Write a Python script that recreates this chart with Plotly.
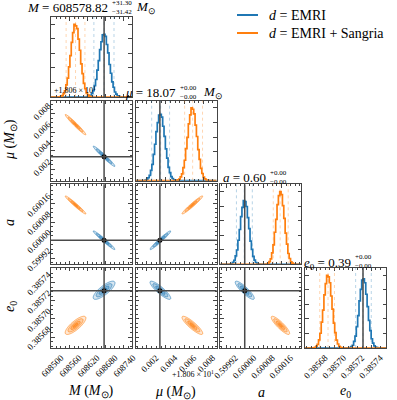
import numpy as np
import plotly.graph_objects as go
from plotly.subplots import make_subplots

BLUE = "#1f77b4"
ORANGE = "#ff7f0e"
TRUTH_COLOR = "#4a4a4a"
FRAME = "#444444"
FONT = "Liberation Serif"

PARAMS = ["M", "mu", "a", "e0"]

AX_RANGE = {
    "M": [608497.0, 608767.0],
    "mu": [18.0608, 18.0694],
    "a": [0.599894, 0.600246],
    "e0": [0.385668, 0.385756],
}
TICK_VALS = {
    "M": [608500, 608560, 608620, 608680, 608740],
    "mu": [18.062, 18.064, 18.066, 18.068],
    "a": [0.59992, 0.60000, 0.60008, 0.60016],
    "e0": [0.38568, 0.38570, 0.38572, 0.38574],
}
TICK_TEXT = {
    "M": ["608500", "608560", "608620", "608680", "608740"],
    "mu": ["0.002", "0.004", "0.006", "0.008"],
    "a": ["0.59992", "0.60000", "0.60008", "0.60016"],
    "e0": ["0.38568", "0.38570", "0.38572", "0.38574"],
}
MINOR_STEP = {"M": 15, "mu": 0.0005, "a": 0.00002, "e0": 0.000005}

TRUTHS = {"M": 608674.0, "mu": 18.06337, "a": 0.600000, "e0": 0.385731}
N_BINS = 60

# marginal histograms: (first bin index, counts), bins = axis range / 60
HIST_EMRI = {
    "M": (27, [5, 12, 22, 50, 87, 158, 241, 371, 499, 652, 760, 855, 862, 834, 722, 608,
               447, 327, 208, 134, 69, 40, 17, 10, 4]),
    "mu": (6, [2, 8, 16, 40, 72, 141, 224, 361, 501, 675, 797, 903, 911, 874, 748, 609,
               437, 309, 184, 112, 55, 30, 12, 5]),
    "a": (7, [4, 10, 27, 55, 115, 197, 331, 479, 655, 782, 876, 862, 795, 642, 491, 320,
              205, 109, 59, 25, 12, 4]),
    "e0": (33, [7, 18, 38, 90, 163, 294, 446, 647, 805, 935, 951, 897, 739, 570, 380, 238,
                127, 67, 28, 12, 4]),
}
HIST_SANGRIA = {
    "M": (6, [3, 10, 19, 47, 86, 166, 259, 414, 568, 751, 884, 1000, 979, 941, 795, 643,
              455, 321, 188, 114, 56, 30, 11, 5]),
    "mu": (30, [4, 11, 22, 53, 94, 179, 281, 441, 594, 780, 905, 1000, 982, 918, 765, 607,
                428, 292, 170, 99, 49, 25, 9, 4]),
    "a": (34, [5, 14, 38, 75, 158, 268, 441, 619, 820, 944, 1000, 957, 806, 633, 428, 279,
               149, 80, 34, 16, 5]),
    "e0": (6, [3, 8, 24, 51, 113, 203, 355, 521, 730, 884, 1000, 979, 897, 715, 534, 342,
               211, 107, 55, 22, 9, 3]),
}

# quantile lines (lower, median, upper)
QUANT_EMRI = {
    "M": [608640.0, 608674.0, 608707.0],
    "mu": [18.0625, 18.06345, 18.0644],
    "a": [0.599964, 0.599998, 0.600033],
    "e0": [0.385723, 0.385731, 0.385740],
}
QUANT_SANGRIA = {
    "M": [608547.40, 608578.82, 608610.12],
    "mu": [18.0660, 18.06685, 18.0679],
    "a": [0.600124, 0.600154, 0.600189],
    "e0": [0.385684, 0.385693, 0.385700],
}

# 2D posterior summaries
MEAN_EMRI = {"M": 608674.0, "mu": 18.063423, "a": 0.600000, "e0": 0.3857315}
SIGMA_EMRI = {"M": 16.5, "mu": 0.0005, "a": 0.0000188, "e0": 0.00000455}
MEAN_SANGRIA = {"M": 608578.82, "mu": 18.06682, "a": 0.6001552, "e0": 0.3856929}
SIGMA_SANGRIA = {"M": 15.7, "mu": 0.0005, "a": 0.0000182, "e0": 0.00000455}
CORR_EMRI = {
    ("M", "mu"): -0.975, ("M", "a"): -0.975, ("mu", "a"): 0.97,
    ("M", "e0"): 0.8, ("mu", "e0"): -0.88, ("a", "e0"): -0.88,
}
CORR_SANGRIA = {
    ("M", "mu"): -0.975, ("M", "a"): -0.975, ("mu", "a"): 0.97,
    ("M", "e0"): 0.8, ("mu", "e0"): -0.88, ("a", "e0"): -0.88,
}
LEVELS = [2.2, 1.6, 1.0, 0.5]
LEVEL_ALPHA = [0.18, 0.25, 0.35, 0.5]

DATASETS = [
    (BLUE, "31,119,180", HIST_EMRI, QUANT_EMRI, MEAN_EMRI, SIGMA_EMRI, CORR_EMRI),
    (ORANGE, "255,127,14", HIST_SANGRIA, QUANT_SANGRIA, MEAN_SANGRIA, SIGMA_SANGRIA, CORR_SANGRIA),
]

W, H = 397, 400
L, R, T, B = 51, 11, 17, 52


def px(x):
    return (x - L) / (W - L - R)


def py(y):
    return (H - B - y) / (H - T - B)


fig = make_subplots(
    rows=4,
    cols=4,
    horizontal_spacing=0.011,
    vertical_spacing=0.011,
    specs=[[{} if c <= r else None for c in range(4)] for r in range(4)],
)

hist_max = {p: max(max(HIST_EMRI[p][1]), max(HIST_SANGRIA[p][1])) * 1.1 for p in PARAMS}

for r, prow in enumerate(PARAMS):
    for c, pcol in enumerate(PARAMS[: r + 1]):
        row, col = r + 1, c + 1
        lo, hi = AX_RANGE[pcol]
        if r == c:
            bw = (hi - lo) / N_BINS
            for color, rgb, hist, quant, *_ in DATASETS:
                start, counts = hist[pcol]
                edges = lo + bw * np.arange(start, start + len(counts) + 1)
                xs = [lo] + list(edges) + [hi]
                ys = [0] + list(counts) + [0, 0]
                fig.add_trace(
                    go.Scatter(x=xs, y=ys, mode="lines", line=dict(color=color, width=1.7, shape="hv"),
                               showlegend=False, hoverinfo="skip"),
                    row=row, col=col,
                )
                for q in quant[pcol]:
                    fig.add_vline(x=q, line=dict(color=f"rgba({rgb},0.4)", width=0.8, dash="dot"),
                                  row=row, col=col)
            fig.add_vline(x=TRUTHS[pcol], line=dict(color=TRUTH_COLOR, width=1.5), row=row, col=col)
        else:
            ylo, yhi = AX_RANGE[prow]
            xg = np.linspace(lo, hi, 160)
            yg = np.linspace(ylo, yhi, 160)
            X, Y = np.meshgrid(xg, yg)
            for color, rgb, hist, quant, mean, sigma, corr in DATASETS:
                rho = corr[(pcol, prow)]
                dx = (X - mean[pcol]) / sigma[pcol]
                dy = (Y - mean[prow]) / sigma[prow]
                z = np.sqrt((dx ** 2 - 2 * rho * dx * dy + dy ** 2) / (1 - rho ** 2))
                for s, alpha in zip(LEVELS, LEVEL_ALPHA):
                    # the constraint shades the region that fails "> s", i.e. inside the ellipse
                    fig.add_trace(
                        go.Contour(
                            x=xg, y=yg, z=z,
                            contours=dict(type="constraint", operation=">", value=s),
                            fillcolor=f"rgba({rgb},{alpha})",
                            line=dict(color=color, width=0.6),
                            showscale=False, hoverinfo="skip", showlegend=False,
                        ),
                        row=row, col=col,
                    )
            fig.add_vline(x=TRUTHS[pcol], line=dict(color=TRUTH_COLOR, width=1.5), row=row, col=col)
            fig.add_hline(y=TRUTHS[prow], line=dict(color=TRUTH_COLOR, width=1.5), row=row, col=col)
            fig.add_trace(
                go.Scatter(x=[TRUTHS[pcol]], y=[TRUTHS[prow]], mode="markers",
                           marker=dict(symbol="circle", size=5, color="black"),
                           showlegend=False, hoverinfo="skip"),
                row=row, col=col,
            )

        common = dict(
            showline=True, linecolor=FRAME, linewidth=1, mirror="allticks",
            ticks="inside", ticklen=3.5, tickwidth=0.8, tickcolor=FRAME,
            showgrid=False, zeroline=False, automargin=False,
            tickfont=dict(family=FONT, size=9, color="black"),
        )
        fig.update_xaxes(
            range=AX_RANGE[pcol], tickmode="array", tickvals=TICK_VALS[pcol], ticktext=TICK_TEXT[pcol],
            minor=dict(ticks="inside", ticklen=2, tickcolor=FRAME, tickmode="linear",
                       tick0=TICK_VALS[pcol][0], dtick=MINOR_STEP[pcol]),
            showticklabels=(r == 3), tickangle=-45, ticklabelshift=9,
            row=row, col=col, **common,
        )
        if r == c:
            fig.update_yaxes(range=[0, hist_max[prow]], tickmode="linear", tick0=0, dtick=200,
                             showticklabels=False, row=row, col=col, **common)
        else:
            fig.update_yaxes(
                range=AX_RANGE[prow], tickmode="array", tickvals=TICK_VALS[prow], ticktext=TICK_TEXT[prow],
                minor=dict(ticks="inside", ticklen=2, tickcolor=FRAME, tickmode="linear",
                           tick0=TICK_VALS[prow][0], dtick=MINOR_STEP[prow]),
                showticklabels=(c == 0), tickangle=-45, ticklabelshift=-9,
                row=row, col=col, **common,
            )

annotations = []


def note(text, x, y, size, xanchor="center", yanchor="middle", angle=0):
    annotations.append(dict(
        text=text, x=px(x), y=py(y), xref="paper", yref="paper", showarrow=False,
        xanchor=xanchor, yanchor=yanchor, textangle=angle,
        font=dict(family=FONT, size=size, color="black"),
    ))


# titles on the diagonal
note("<i>M</i> = 608578.82", 110, 8, 13, xanchor="right")
note("+31.30<br>−31.42", 110, 7, 7, xanchor="left")
note("<i>M</i><sub>⊙</sub>", 134, 8, 13, xanchor="left")
note("<i>μ</i> = 18.07", 178, 93, 13, xanchor="right")
note("+0.00<br>−0.00", 178, 92, 7, xanchor="left")
note("<i>M</i><sub>⊙</sub>", 201, 93, 13, xanchor="left")
note("<i>a</i> = 0.60", 268, 178, 13, xanchor="right")
note("+0.00<br>−0.00", 268, 177, 7, xanchor="left")
note("<i>e</i><sub>0</sub> = 0.39", 353, 263, 13, xanchor="right")
note("+0.00<br>−0.00", 353, 261, 7, xanchor="left")

# axis labels
note("<i>M</i> (<i>M</i><sub>⊙</sub>)", 91, 391, 14)
note("<i>μ</i> (<i>M</i><sub>⊙</sub>)", 175, 392, 14)
note("<i>a</i>", 261, 392, 14)
note("<i>e</i><sub>0</sub>", 345, 391, 14)
note("<i>μ</i> (<i>M</i><sub>⊙</sub>)", 10, 140, 14, angle=-90)
note("<i>a</i>", 10, 223, 14, angle=-90)
note("<i>e</i><sub>0</sub>", 10, 307, 14, angle=-90)

# offset texts
note("+1.806 × 10<sup>1</sup>", 52, 90, 8, xanchor="left")
note("+1.806 × 10<sup>1</sup>", 216, 374, 8, xanchor="right")

# legend
shapes = []
for i, (color, label) in enumerate([(BLUE, "<i>d</i> = EMRI"), (ORANGE, "<i>d</i> = EMRI + Sangria")]):
    yy = 15 + 18 * i
    shapes.append(dict(type="line", xref="paper", yref="paper", x0=px(237), x1=px(258),
                       y0=py(yy), y1=py(yy), line=dict(color=color, width=2)))
    note(label, 267, yy, 14, xanchor="left")

fig.update_layout(
    width=W, height=H,
    margin=dict(l=L, r=R, t=T, b=B),
    plot_bgcolor="white", paper_bgcolor="white",
    showlegend=False,
    annotations=annotations,
    shapes=list(fig.layout.shapes) + shapes,
    font=dict(family=FONT, color="black"),
)

fig.write_html(
    "out.html",
    config={"displayModeBar": False},
    post_script="document.body.style.margin='0';",
)
